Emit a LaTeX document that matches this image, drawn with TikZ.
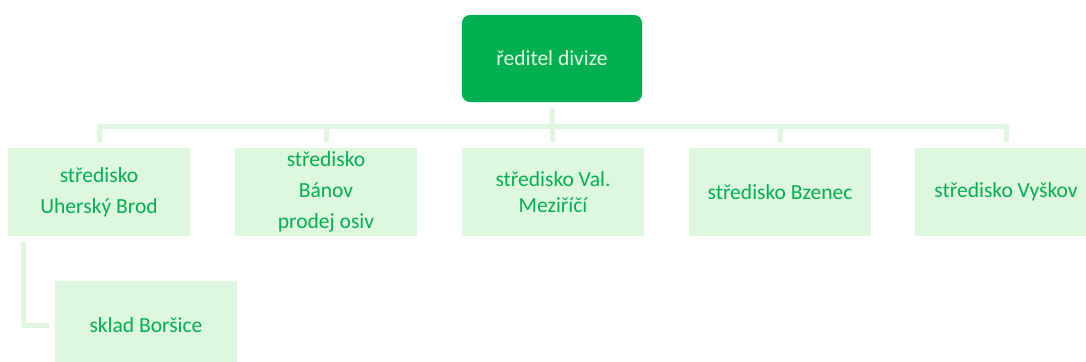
\documentclass[tikz,border=0pt]{standalone}
\usepackage{fontspec}
\setmainfont{Carlito}
\usepackage{tikz}
\usetikzlibrary{calc}

\definecolor{divgreen}{HTML}{00B050}
\definecolor{palegreen}{HTML}{DEF8DF}
\definecolor{linkgreen}{HTML}{E0F6E0}
\definecolor{headtext}{HTML}{E4F6E4}

\tikzset{
  headbox/.style={rectangle,rounded corners=.2cm,fill=divgreen,text=headtext,
    minimum width=4.5cm,minimum height=2.175cm,inner sep=0pt,align=center},
  unitbox/.style={rectangle,fill=palegreen,text=divgreen,
    minimum width=4.55cm,minimum height=2.2cm,inner sep=0pt,align=center},
  link/.style={draw=linkgreen,line width=.125cm,line join=round}
}

\begin{document}
\begin{tikzpicture}[x=.025cm,y=.025cm,font=\fontsize{15.3}{18}\selectfont]
\useasboundingbox (0,0) rectangle (1086,-362);
% division head
\node[headbox] (boss) at (552,-58.5) {ředitel divize};
% centres
\node[unitbox] (c1) at (99,-192) {středisko\\[4pt]Uherský Brod};
\node[unitbox] (c2) at (326,-192) {středisko\\[4pt]Bánov\\[4pt]prodej osiv};
\node[unitbox] (c3) at (553,-192) {středisko Val.\\Meziříčí};
\node[unitbox] (c4) at (780,-192) {středisko Bzenec};
\node[unitbox] (c5) at (1006,-192) {středisko Vyškov};
% store under Uherský Brod
\node[unitbox] (sub) at (146,-325) {sklad Boršice};
% connectors
\coordinate (bus) at (552,-126);
\draw[link] ($(boss.south)+(0,-6)$) -- ($(c3.north)+(0,6)$);
\draw[link] ($(c1.north)+(0,6)$) |- (bus) -| ($(c5.north)+(0,6)$);
\draw[link] ($(c2.north)+(0,6)$) -- (c2.north |- bus);
\draw[link] ($(c4.north)+(0,6)$) -- (c4.north |- bus);
\draw[link] ($(c1.south west)+(16,-6)$) |- ($(sub.west)+(-6,0)$);
\end{tikzpicture}
\end{document}
